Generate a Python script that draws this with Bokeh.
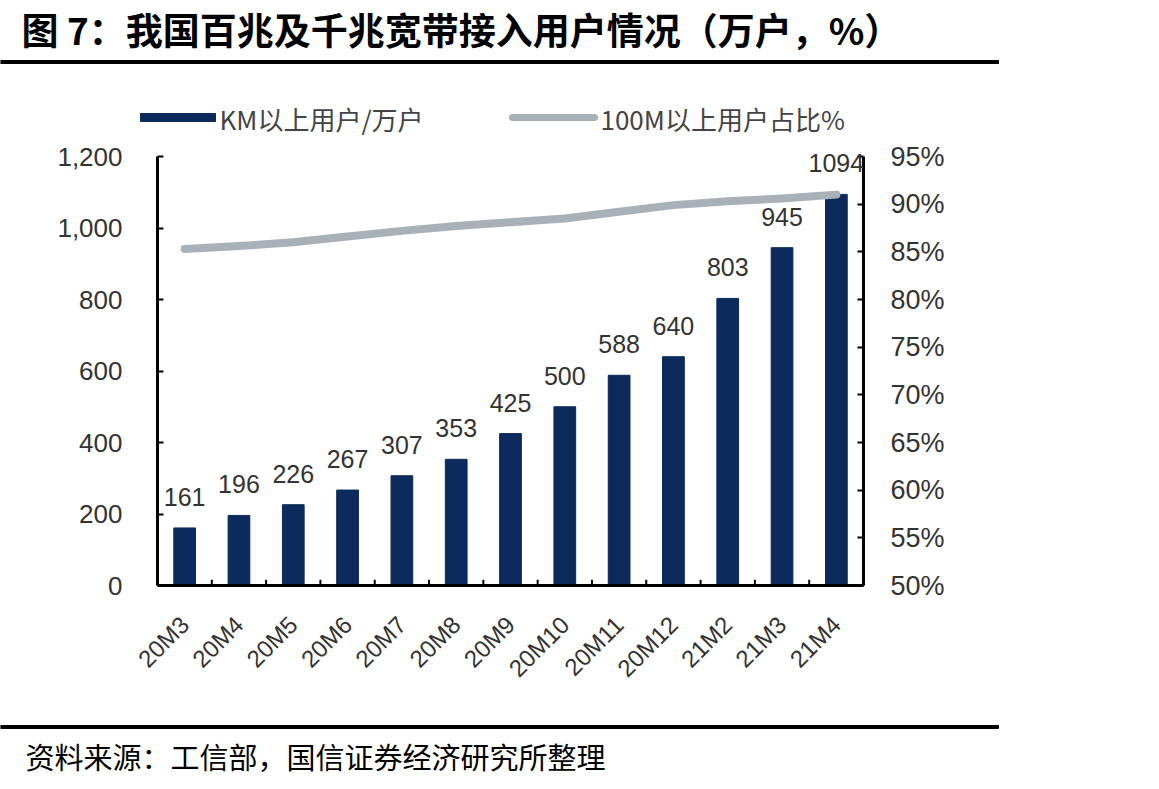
from math import pi

from bokeh.core.properties import value
from bokeh.embed import file_html
from bokeh.models import (ColumnDataSource, FixedTicker, LabelSet, LinearAxis,
                          NumeralTickFormatter, PrintfTickFormatter, Range1d)
from bokeh.plotting import figure
from bokeh.resources import INLINE

# ---- data ----
months = ["20M3", "20M4", "20M5", "20M6", "20M7", "20M8", "20M9",
          "20M10", "20M11", "20M12", "21M2", "21M3", "21M4"]
gigabit_users = [161, 196, 226, 267, 307, 353, 425, 500, 588, 640, 803, 945, 1094]
share_100m = [85.3, 85.6, 86.0, 86.6, 87.2, 87.7, 88.1, 88.5, 89.2, 89.9, 90.3, 90.6, 91.0]
left_ticks = [0, 200, 400, 600, 800, 1000, 1200]
right_ticks = [50, 55, 60, 65, 70, 75, 80, 85, 90, 95]

title_text = "图 7：我国百兆及千兆宽带接入用户情况（万户，%）"
source_text = "资料来源：工信部，国信证券经济研究所整理"
legend_bar = "KM以上用户/万户"
legend_line = "100M以上用户占比%"

# ---- styling ----
W = 1159
NAVY = "#0c2a5b"
GREY = "#a9b0b8"
TXT = "#333333"
LATIN = "Liberation Sans"
CJK = "Noto Sans CJK SC"


def canvas_strip(height):
    """A blank strip whose data coordinates equal pixels (y grows downward)."""
    f = figure(width=W, height=height, output_backend="svg", toolbar_location=None,
               x_range=Range1d(0, W), y_range=Range1d(height, 0),
               x_axis_location=None, y_axis_location=None,
               min_border=0, min_border_left=0, min_border_right=0,
               min_border_top=0, min_border_bottom=0)
    f.outline_line_color = None
    f.xgrid.visible = False
    f.ygrid.visible = False
    f.background_fill_color = "white"
    f.border_fill_color = "white"
    return f


# ---- header: title, rule, legend ----
head = canvas_strip(140)
head.text(x=[21], y=[28], text=[title_text], text_baseline="middle",
          text_font=value(CJK), text_font_size="37px", text_font_style="bold",
          text_color="black")
head.quad(left=[0], right=[998], top=[60], bottom=[63], color="black")
head.quad(left=[140], right=[215], top=[113], bottom=[121], color=NAVY)
head.text(x=[219], y=[118], text=[legend_bar], text_baseline="middle",
          text_font=value(CJK), text_font_size="26px", text_color="#444444")
head.line(x=[512, 594], y=[117, 117], line_width=7, line_color=GREY, line_cap="round")
head.text(x=[600], y=[118], text=[legend_line], text_baseline="middle",
          text_font=value(CJK), text_font_size="26px", text_color="#444444")

# ---- main chart ----
idx = list(range(len(months)))

# the plot frame reaches a little above the top tick so the tallest value
# label has room; the axis lines stop at the top tick
AX_PX, FRAME_PX = 429, 445
y_top = left_ticks[-1] * FRAME_PX / AX_PX
pct_top = right_ticks[0] + (right_ticks[-1] - right_ticks[0]) * FRAME_PX / AX_PX

p = figure(width=W, height=580, output_backend="svg", toolbar_location=None,
           x_range=Range1d(-0.5, len(months) - 0.5), y_range=Range1d(0, y_top),
           x_axis_location=None, y_axis_location=None,
           min_border_left=157, min_border_right=296,
           min_border_top=0, min_border_bottom=135)
p.outline_line_color = None
p.xgrid.visible = False
p.ygrid.visible = False
p.background_fill_color = "white"
p.border_fill_color = "white"
p.extra_y_ranges = {"pct": Range1d(right_ticks[0], pct_top)}


def style_axis(ax, size):
    ax.axis_line_color = "black"
    ax.axis_line_width = 3
    ax.major_tick_line_color = "black"
    ax.major_tick_line_width = 2
    ax.major_tick_in = 6
    ax.major_tick_out = 0
    ax.minor_tick_line_color = None
    ax.major_label_text_font = LATIN
    ax.major_label_text_font_size = size
    ax.major_label_text_color = TXT


left = LinearAxis(ticker=FixedTicker(ticks=left_ticks),
                  formatter=NumeralTickFormatter(format="0,0"),
                  bounds=(left_ticks[0], left_ticks[-1]))
style_axis(left, "26px")
left.major_label_standoff = 35
p.add_layout(left, "left")

right = LinearAxis(y_range_name="pct", ticker=FixedTicker(ticks=right_ticks),
                   formatter=PrintfTickFormatter(format="%d%%"),
                   bounds=(right_ticks[0], right_ticks[-1]))
style_axis(right, "27px")
right.major_label_standoff = 27
p.add_layout(right, "right")

bottom = LinearAxis(ticker=FixedTicker(ticks=idx),
                    major_label_overrides={i: m for i, m in enumerate(months)})
style_axis(bottom, "24px")
bottom.major_tick_line_color = None
bottom.major_label_orientation = pi / 4
bottom.major_label_standoff = 35
p.add_layout(bottom, "below")

# small inward ticks between the categories
bounds = [i + 0.5 for i in idx[:-1]]
p.segment(x0=bounds, x1=bounds, y0=[0] * len(bounds), y1=[16] * len(bounds),
          line_color="black", line_width=2)

# bars and share line
p.vbar(x=idx, top=gigabit_users, width=0.4, color=NAVY)
p.line(x=idx, y=share_100m, y_range_name="pct", line_width=8,
       line_color=GREY, line_cap="round", line_join="round")

src = ColumnDataSource(dict(x=idx, y=gigabit_users,
                            t=[str(v) for v in gigabit_users]))
p.add_layout(LabelSet(x="x", y="y", text="t", source=src,
                      text_align="center", text_baseline="bottom", y_offset=22,
                      text_font=value(LATIN), text_font_size="25px",
                      text_color=TXT))

# ---- footer: rule and source note ----
foot = canvas_strip(69)
foot.quad(left=[0], right=[998], top=[5], bottom=[8], color="black")
foot.text(x=[25], y=[35], text=[source_text], text_baseline="middle",
          text_font=value(CJK), text_font_size="29px", text_color="black")

# three independent roots stacked on the page, so each keeps its own frame
open("out.html", "w").write(file_html([head, p, foot], INLINE))
